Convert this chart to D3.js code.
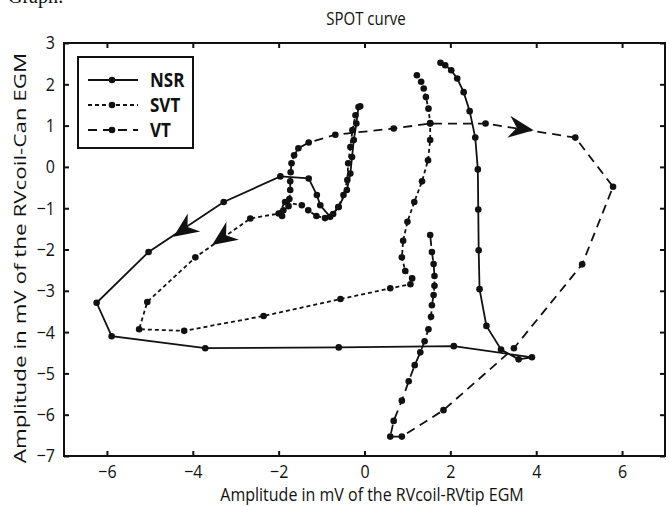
<!DOCTYPE html>
<html>
<head>
<meta charset="utf-8">
<script src="https://cdn.jsdelivr.net/npm/d3@7"></script>
<style>
  body { margin: 0; background: #fff; }
  text { font-family: "Open Sans", sans-serif; fill: #111; }
</style>
</head>
<body>
<div id="chart"></div>
<script>
// points, [RVcoil-RVtip, RVcoil-Can] in mV
const nsr = [
  [-0.14, 1.45], [-0.19, 1.05], [-0.25, 0.65], [-0.29, 0.24], [-0.33, -0.16],
  [-0.41, -0.56], [-0.60, -0.97], [-0.80, -1.21], [-1.03, -0.93], [-1.11, -0.68],
  [-1.30, -0.28], [-1.96, -0.23], [-3.28, -0.85], [-5.03, -2.06], [-6.24, -3.29],
  [-5.89, -4.10], [-3.71, -4.39], [-0.60, -4.37], [2.08, -4.34], [3.90, -4.61],
  [3.59, -4.66], [3.18, -4.42], [2.84, -3.85], [2.68, -2.96], [2.66, -2.02],
  [2.65, -1.03], [2.64, -0.06], [2.58, 0.71], [2.45, 1.35], [2.31, 1.81],
  [2.16, 2.14], [2.02, 2.34], [1.88, 2.46], [1.77, 2.52]
];
const svt = [
  [-0.10, 1.47], [-0.21, 1.25], [-0.28, 0.89], [-0.33, 0.48], [-0.38, 0.09],
  [-0.40, -0.32], [-0.49, -0.68], [-0.61, -0.97], [-0.73, -1.14], [-0.92, -1.24],
  [-1.12, -1.19], [-1.31, -1.05], [-1.46, -0.93], [-1.85, -0.85], [-2.00, -1.13],
  [-2.66, -1.25], [-3.94, -2.19], [-5.06, -3.27], [-5.25, -3.93], [-4.20, -3.97],
  [-2.35, -3.61], [-0.56, -3.20], [0.60, -2.94], [1.07, -2.84], [1.11, -2.70],
  [0.95, -2.52], [0.87, -2.19], [0.90, -1.79], [1.00, -1.33], [1.16, -0.85],
  [1.34, -0.35], [1.48, 0.16], [1.53, 0.65], [1.53, 1.06], [1.49, 1.41],
  [1.43, 1.69], [1.38, 1.90], [1.32, 2.06], [1.22, 2.22]
];
const vt = [
  [-1.92, -1.19], [-1.89, -1.05], [-1.77, -0.95], [-1.75, -0.78], [-1.73, -0.56],
  [-1.73, -0.35], [-1.72, -0.13], [-1.70, 0.09], [-1.64, 0.28], [-1.54, 0.45],
  [-1.30, 0.59], [-0.68, 0.78], [0.68, 0.93], [1.53, 1.05], [2.82, 1.05],
  [4.91, 0.71], [5.79, -0.48], [5.07, -2.36], [3.48, -4.39], [1.84, -5.89],
  [0.87, -6.53], [0.60, -6.53], [0.68, -6.15], [0.87, -5.66], [1.03, -5.19],
  [1.17, -4.80], [1.30, -4.49], [1.40, -4.22], [1.49, -3.93], [1.55, -3.63],
  [1.57, -3.35], [1.61, -3.10], [1.63, -2.88], [1.63, -2.64], [1.61, -2.35],
  [1.57, -2.06], [1.53, -1.65]
];
// arrow tips and the point they come from
const arrows = [
  { tip: [-4.45, -1.69], from: [-3.28, -0.85] },
  { tip: [-3.55, -1.89], from: [-2.66, -1.25] },
  { tip: [3.94, 0.89], from: [2.82, 1.05] }
];
const seriesNames = ["NSR", "SVT", "VT"];
const xTicks = [-6, -4, -2, 0, 2, 4, 6];
const yTicks = [-7, -6, -5, -4, -3, -2, -1, 0, 1, 2, 3];

const width = 670;
const height = 507;
const margin = { top: 43, right: 5, bottom: 51, left: 64 };
const innerWidth = width - margin.left - margin.right;
const innerHeight = height - margin.top - margin.bottom;
const stretch = 1.15; // the figure text is a bit taller than wide

const svg = d3.select("#chart")
    .append("svg")
    .attr("width", width)
    .attr("height", height);

// bit of the page text above the figure
svg.append("text")
    .attr("x", 8)
    .attr("y", 3)
    .style("font-family", "'Liberation Serif', serif")
    .style("font-size", "20px")
    .text("Graph:");

const chart = svg.append("g")
    .attr("transform", `translate(${margin.left}, ${margin.top})`);

const xScale = d3.scaleLinear().domain([-7, 7]).range([0, innerWidth]);
const yScale = d3.scaleLinear().domain([-7, 3]).range([innerHeight, 0]);

const dashes = { NSR: null, SVT: "4,3", VT: "9,6" };
const seriesData = { NSR: nsr, SVT: svt, VT: vt };

const xAxis = d3.axisBottom(xScale).tickValues(xTicks).tickSizeInner(-5).tickSizeOuter(0).tickPadding(9);
const yAxis = d3.axisLeft(yScale).tickValues(yTicks).tickSizeInner(-5).tickSizeOuter(0).tickPadding(9);

const gx = chart.append("g")
    .attr("class", "x axis")
    .attr("transform", `translate(0, ${innerHeight})`)
    .call(xAxis);
const gy = chart.append("g")
    .attr("class", "y axis")
    .call(yAxis);
chart.append("g")
    .attr("class", "top axis")
    .call(d3.axisTop(xScale).tickValues(xTicks).tickSizeInner(-5).tickSizeOuter(0))
    .selectAll("text").remove();
chart.append("g")
    .attr("class", "right axis")
    .attr("transform", `translate(${innerWidth},0)`)
    .call(d3.axisRight(yScale).tickValues(yTicks).tickSizeInner(-5).tickSizeOuter(0))
    .selectAll("text").remove();

chart.selectAll(".domain").remove();
chart.selectAll(".tick line").attr("stroke", "#111").attr("stroke-width", 2);
chart.selectAll(".tick text").style("font-size", "16px").attr("fill", "#111");
gx.selectAll(".tick text")
    .attr("y", 9 / stretch)
    .attr("transform", `scale(1, ${stretch})`);
gy.selectAll(".tick text")
    .attr("transform", `scale(1, ${stretch})`);

chart.append("rect")
    .attr("width", innerWidth)
    .attr("height", innerHeight)
    .attr("fill", "none")
    .attr("stroke", "#111")
    .attr("stroke-width", 2);

const line = d3.line()
    .x(d => xScale(d[0]))
    .y(d => yScale(d[1]));

seriesNames.forEach(name => {
    chart.append("path")
        .datum(seriesData[name])
        .attr("d", line)
        .attr("fill", "none")
        .attr("stroke", "#111")
        .attr("stroke-width", 1.8)
        .attr("stroke-dasharray", dashes[name]);

    chart.selectAll(".dot-" + name)
        .data(seriesData[name])
        .enter()
        .append("circle")
        .attr("cx", d => xScale(d[0]))
        .attr("cy", d => yScale(d[1]))
        .attr("r", 3.3)
        .attr("fill", "#111");
});

chart.selectAll(".arrow")
    .data(arrows)
    .enter()
    .append("path")
    .attr("class", "arrow")
    .attr("d", "M0,0 L-25,-11 L-17,0 L-25,11 Z")
    .attr("fill", "#111")
    .attr("transform", d => {
        const tx = xScale(d.tip[0]), ty = yScale(d.tip[1]);
        const ang = Math.atan2(ty - yScale(d.from[1]), tx - xScale(d.from[0])) * 180 / Math.PI;
        return `translate(${tx},${ty}) rotate(${ang})`;
    });

// legend
const legend = svg.append("g").attr("transform", "translate(78, 57)");
legend.append("rect")
    .attr("width", 115)
    .attr("height", 91)
    .attr("fill", "#fff")
    .attr("stroke", "#111")
    .attr("stroke-width", 2);
const rows = legend.selectAll(".legend")
    .data(seriesNames)
    .enter()
    .append("g")
    .attr("class", "legend")
    .attr("transform", (d, i) => `translate(0, ${23 + i * 25})`);
rows.append("line")
    .attr("x1", 10).attr("x2", 60)
    .attr("stroke", "#111")
    .attr("stroke-width", 1.8)
    .attr("stroke-dasharray", d => dashes[d]);
rows.append("circle")
    .attr("cx", 34)
    .attr("r", 3.3)
    .attr("fill", "#111");
rows.append("text")
    .attr("x", 72)
    .attr("dy", "0.36em")
    .attr("transform", `scale(1, ${stretch})`)
    .style("font-size", "17px")
    .style("font-weight", "bold")
    .text(d => d);

// titles
svg.append("text")
    .attr("transform", `translate(366, 25) scale(1, ${stretch})`)
    .style("text-anchor", "middle")
    .style("font-size", "15px")
    .text("SPOT curve");

svg.append("text")
    .attr("transform", `translate(372, 501) scale(1, ${stretch})`)
    .style("text-anchor", "middle")
    .style("font-size", "16px")
    .text("Amplitude in mV of the RVcoil-RVtip EGM");

svg.append("text")
    .attr("transform", "translate(26, 258) rotate(-90) scale(1.4, 1)")
    .style("text-anchor", "middle")
    .style("font-size", "16px")
    .text("Amplitude in mV of the RVcoil-Can EGM");
</script>
</body>
</html>
